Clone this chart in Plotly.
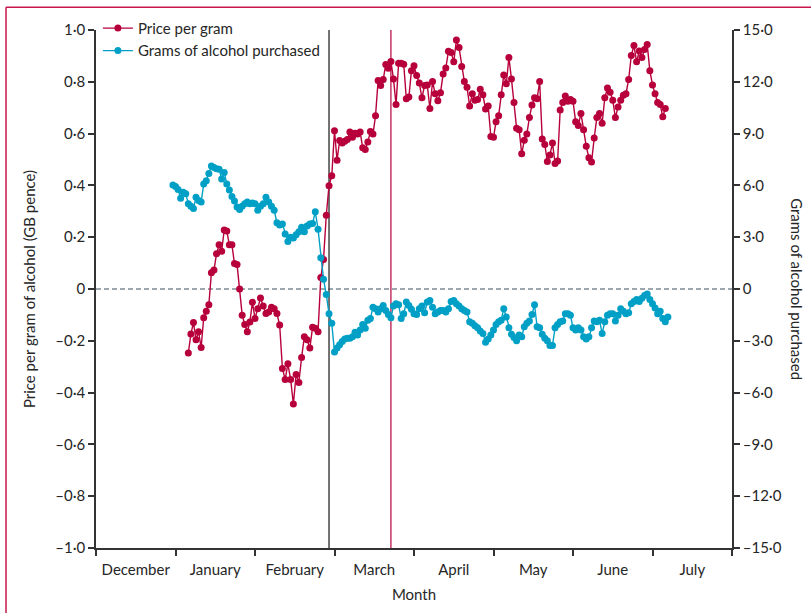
import pandas as pd
import plotly.graph_objects as go

# Month bands on the x axis (each month gets an equal-width band)
MONTHS = ["December", "January", "February", "March", "April", "May", "June", "July"]
AXIS_FIRST_MONTH = pd.Timestamp("2019-12-01")

# Daily change in price per gram of alcohol (GB pence), from 6 Jan 2020
PRICE_START = "2020-01-06"
price_per_gram = [
    -0.247, -0.174, -0.129, -0.196, -0.165, -0.226, -0.111, -0.086, -0.061, 0.063,
    0.073, 0.136, 0.171, 0.146, 0.228, 0.224, 0.171, 0.171, 0.098, 0.095,
    0.000, -0.101, -0.137, -0.165, -0.127, -0.051, -0.114, -0.076, -0.035, -0.066,
    -0.095, -0.089, -0.070, -0.076, -0.095, -0.139, -0.307, -0.349, -0.289, -0.349,
    -0.444, -0.330, -0.361, -0.264, -0.184, -0.196, -0.228, -0.148, -0.152, -0.165,
    0.044, 0.114, 0.285, 0.399, 0.437,
    0.611, 0.497, 0.573, 0.564, 0.570, 0.577, 0.606, 0.586, 0.601, 0.598,
    0.606, 0.545, 0.539, 0.568, 0.608, 0.598, 0.669, 0.805, 0.786, 0.809,
    0.867, 0.852, 0.878, 0.811, 0.712, 0.872, 0.872, 0.868, 0.735, 0.741,
    0.843, 0.862, 0.824, 0.795, 0.738, 0.786, 0.788, 0.697, 0.801, 0.754,
    0.727, 0.758, 0.830, 0.853, 0.918, 0.913, 0.877, 0.961, 0.932, 0.859,
    0.801, 0.779, 0.707, 0.754, 0.729, 0.732, 0.771, 0.750, 0.695, 0.707,
    0.589, 0.586, 0.646, 0.669, 0.750, 0.826, 0.792, 0.894, 0.811, 0.720,
    0.621, 0.615, 0.522, 0.574, 0.598, 0.662, 0.710, 0.738, 0.735, 0.801,
    0.579, 0.558, 0.492, 0.517, 0.564, 0.485, 0.494, 0.691, 0.720, 0.745,
    0.725, 0.732, 0.725, 0.646, 0.631, 0.678, 0.615, 0.551, 0.507, 0.490,
    0.583, 0.662, 0.678, 0.640, 0.738, 0.776, 0.760, 0.729, 0.662, 0.703,
    0.729, 0.748, 0.754, 0.809, 0.902, 0.940, 0.877, 0.919, 0.894, 0.925,
    0.944, 0.843, 0.788, 0.754, 0.720, 0.712, 0.665, 0.697,
]

# Daily change in grams of alcohol purchased, from 31 Dec 2019
GRAMS_START = "2019-12-31"
grams_purchased = [
    6.03, 5.93, 5.76, 5.26, 5.61, 5.51, 4.94, 4.79, 4.66, 5.32,
    5.13, 5.04, 6.08, 6.27, 6.69, 7.13, 7.03, 6.97, 6.94, 6.37,
    6.75, 6.08, 5.74, 5.36, 5.09, 4.75, 4.60, 4.79, 4.94, 5.04,
    4.94, 4.98, 4.94, 4.56, 4.79, 4.94, 5.32, 5.04, 4.79, 4.56,
    3.84, 3.71, 3.76, 3.19, 2.75, 3.00, 2.95, 3.14, 3.32, 3.57,
    3.32, 3.65, 3.76, 3.80, 4.47, 3.46, 1.81, 0.57, -0.32, -1.43,
    -1.99, -3.65,
    -3.42, -3.23, -3.04, -2.89, -2.85, -2.85, -2.76, -2.51, -2.66, -2.38,
    -2.05, -2.28, -1.81, -1.71, -1.05, -1.14, -1.33, -1.14, -0.95, -1.24,
    -1.48, -1.67, -0.99, -0.86, -0.91, -1.71, -1.43, -0.76, -0.95, -1.18,
    -1.43, -1.48, -1.14, -0.99, -1.37, -0.76, -0.67, -1.05, -1.43, -1.33,
    -1.24, -1.24, -1.33, -1.14, -0.72, -0.67, -0.86, -0.99, -1.14, -1.24,
    -1.33, -1.90, -1.99, -2.13, -2.24, -2.43, -2.57, -3.08, -2.89, -2.66,
    -2.38, -2.05, -1.90, -1.81, -1.14, -1.62, -2.24, -2.62, -2.81, -3.00,
    -2.66, -2.76, -2.19, -1.99, -1.86, -1.48, -0.91, -2.19, -2.24, -2.62,
    -2.85, -3.00, -3.27, -3.27, -2.24, -2.05, -1.90, -1.86, -1.43, -1.43,
    -1.52, -2.24, -2.38, -2.24, -2.38, -2.76, -2.89, -2.76, -2.24, -1.86,
    -1.90, -1.81, -2.57, -1.90, -1.52, -1.43, -1.43, -1.86, -1.52, -1.14,
    -1.29, -1.43, -1.37, -0.86, -0.72, -0.61, -0.72, -0.53, -0.38, -0.29,
    -0.61, -0.86, -1.10, -1.43, -1.29, -1.71, -1.90, -1.62,
]

# Event markers
EVENT_BLACK = "2020-02-28"
EVENT_RED = "2020-03-23"

PRICE_TICKS = [1.0, 0.8, 0.6, 0.4, 0.2, 0.0, -0.2, -0.4, -0.6, -0.8, -1.0]
GRAMS_TICKS = [15.0, 12.0, 9.0, 6.0, 3.0, 0.0, -3.0, -6.0, -9.0, -12.0, -15.0]

RED = "#b7003b"
TEAL = "#00a0c6"
FRAME = "#c8174a"
AXIS = "#333333"
TEXT = "#262626"
FONT = "Lato, 'Open Sans', sans-serif"


def month_position(dates):
    """Convert dates to a position on the equal-width month axis."""
    d = pd.DatetimeIndex(pd.to_datetime(dates))
    months = (d.year - AXIS_FIRST_MONTH.year) * 12 + (d.month - AXIS_FIRST_MONTH.month)
    return (months + (d.day - 1) / d.days_in_month).to_numpy()


def lancet_label(v):
    if abs(v) < 1e-9:
        return "0"
    s = f"{abs(v):.1f}".replace(".", "\u00b7")
    return ("\u2013" if v < 0 else "") + s


price_x = month_position(pd.date_range(PRICE_START, periods=len(price_per_gram), freq="D"))
grams_x = month_position(pd.date_range(GRAMS_START, periods=len(grams_purchased), freq="D"))

fig = go.Figure()
fig.add_trace(go.Scatter(
    x=price_x, y=price_per_gram, name="Price per gram",
    mode="lines+markers", line=dict(color=RED, width=1.4),
    marker=dict(color=RED, size=7), yaxis="y", xaxis="x",
))
fig.add_trace(go.Scatter(
    x=grams_x, y=grams_purchased, name="Grams of alcohol purchased",
    mode="lines+markers", line=dict(color=TEAL, width=1.4),
    marker=dict(color=TEAL, size=7), yaxis="y2", xaxis="x",
))

n_months = len(MONTHS)
# invisible trace that carries the month-label axis
fig.add_trace(go.Scatter(x=[0, n_months], y=[0, 0], xaxis="x2", yaxis="y",
                         mode="markers", marker=dict(opacity=0), showlegend=False,
                         hoverinfo="skip"))

common_axis = dict(showgrid=False, zeroline=False, linecolor=AXIS, linewidth=1.5,
                   tickcolor=AXIS, tickwidth=1.5, ticklen=6,
                   tickfont=dict(size=15, color=TEXT))

fig.update_layout(
    width=811, height=613,
    margin=dict(l=96, r=79, t=27, b=60),
    paper_bgcolor="white", plot_bgcolor="white",
    font=dict(family=FONT, size=15, color=TEXT),
    xaxis=dict(range=[0, n_months], tickvals=list(range(n_months + 1)),
               showticklabels=False, ticks="outside", showline=True, **common_axis),
    xaxis2=dict(range=[0, n_months], overlaying="x", anchor="y", side="bottom",
                tickvals=[i + 0.5 for i in range(n_months)], ticktext=MONTHS,
                ticks="outside", ticklen=8, tickcolor="rgba(0,0,0,0)",
                showline=False, showgrid=False, zeroline=False,
                tickfont=dict(size=15, color=TEXT),
                title=dict(text="Month", standoff=12, font=dict(size=15, color=TEXT))),
    yaxis=dict(range=[-1, 1], tickvals=PRICE_TICKS,
               ticktext=[lancet_label(v) for v in PRICE_TICKS],
               ticks="outside", showline=True,
               title=dict(text="Price per gram of alcohol (GB pence)", standoff=16,
                          font=dict(size=15, color=TEXT)),
               **common_axis),
    yaxis2=dict(range=[-15, 15], tickvals=GRAMS_TICKS,
                ticktext=[lancet_label(v) for v in GRAMS_TICKS],
                overlaying="y", side="right", anchor="x",
                ticks="outside", showline=True, **common_axis),
    legend=dict(x=0.003, y=1.035, xanchor="left", yanchor="top",
                bgcolor="rgba(0,0,0,0)", font=dict(size=15, color=TEXT),
                itemwidth=30, tracegroupgap=0),
    showlegend=True,
)

# right-hand axis title reads top to bottom
fig.add_annotation(text="Grams of alcohol purchased", textangle=90,
                   xref="paper", yref="paper", x=1.102, y=0.5,
                   xanchor="center", yanchor="middle", showarrow=False,
                   font=dict(size=15, color=TEXT))

shapes = [
    # zero reference line
    dict(type="line", xref="paper", yref="y", x0=0, x1=1, y0=0, y1=0,
         line=dict(color="#7d8b93", width=1.5, dash="5px,3px"), layer="below"),
    # event lines
    dict(type="line", xref="x", yref="paper",
         x0=month_position([EVENT_BLACK])[0], x1=month_position([EVENT_BLACK])[0],
         y0=0, y1=1, line=dict(color="#444444", width=1.5), layer="below"),
    dict(type="line", xref="x", yref="paper",
         x0=month_position([EVENT_RED])[0], x1=month_position([EVENT_RED])[0],
         y0=0, y1=1, line=dict(color=RED, width=1.2), layer="below"),
    # figure frame (top and left rule)
    dict(type="line", xref="paper", yref="paper", x0=-0.1415, x1=1.2, y0=1.0437, y1=1.0437,
         line=dict(color=FRAME, width=1.5)),
    dict(type="line", xref="paper", yref="paper", x0=-0.1415, x1=-0.1415, y0=1.0437, y1=-0.2,
         line=dict(color=FRAME, width=1.5)),
]
fig.update_layout(shapes=shapes)

fig.write_html("out.html")
